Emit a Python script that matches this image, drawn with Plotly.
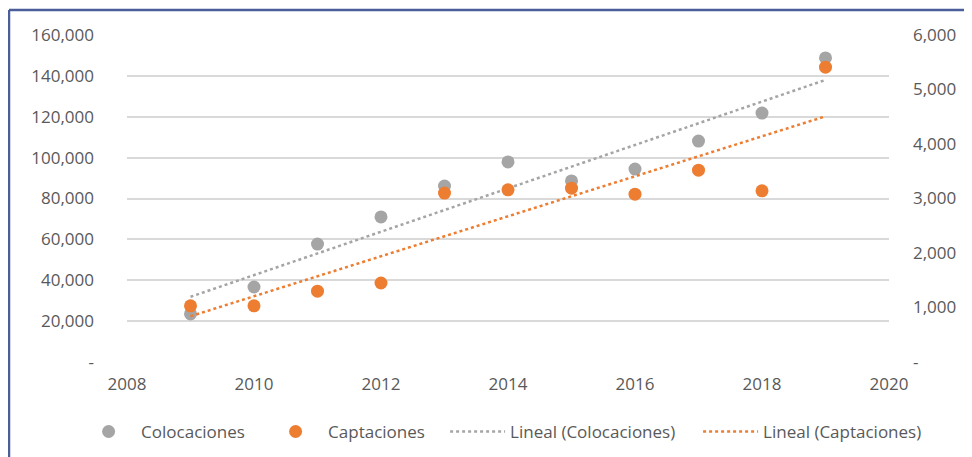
import numpy as np
import plotly.graph_objects as go

years = [2009, 2010, 2011, 2012, 2013, 2014, 2015, 2016, 2017, 2018, 2019]
colocaciones = [23500, 36700, 57700, 71000, 86100, 97900, 88600, 94400, 108100, 121800, 148800]
captaciones = [1030, 1030, 1300, 1450, 3100, 3160, 3190, 3080, 3520, 3140, 5410]

left_ticks = [0, 20000, 40000, 60000, 80000, 100000, 120000, 140000, 160000]
left_text = ["-", "20,000", "40,000", "60,000", "80,000", "100,000", "120,000", "140,000", "160,000"]
right_ticks = [0, 1000, 2000, 3000, 4000, 5000, 6000]
right_text = ["-", "1,000", "2,000", "3,000", "4,000", "5,000", "6,000"]
x_ticks = [2008, 2010, 2012, 2014, 2016, 2018, 2020]

GRAY = "#A5A5A5"
ORANGE = "#ED7D31"
TXT = "#595959"
FONT = "Open Sans"

x = np.array(years, dtype=float)
c_fit = np.polyfit(x, colocaciones, 1)
k_fit = np.polyfit(x, captaciones, 1)
trend_x = [years[0], years[-1]]

W, H = 964, 449
L, R, T, B = 119, 83, 27, 95
PW, PH = W - L - R, H - T - B

fig = go.Figure()
fig.add_trace(go.Scatter(x=years, y=colocaciones, mode="markers", name="Colocaciones",
                         marker=dict(color=GRAY, size=13), legendwidth=117))
fig.add_trace(go.Scatter(x=years, y=captaciones, mode="markers", name="Captaciones",
                         marker=dict(color=ORANGE, size=13), yaxis="y2", legendwidth=112))
fig.add_trace(go.Scatter(x=trend_x, y=list(np.polyval(c_fit, trend_x)), mode="lines",
                         name="Lineal (Colocaciones)",
                         line=dict(color=GRAY, width=2.5, dash="dot"), legendwidth=183))
fig.add_trace(go.Scatter(x=trend_x, y=list(np.polyval(k_fit, trend_x)), mode="lines",
                         name="Lineal (Captaciones)", yaxis="y2",
                         line=dict(color=ORANGE, width=2.5, dash="dot"), legendwidth=168))

fig.update_layout(
    width=W, height=H,
    margin=dict(l=L, r=R, t=T, b=B, autoexpand=False),
    paper_bgcolor="white", plot_bgcolor="white",
    font=dict(family=FONT, size=17, color=TXT),
    showlegend=True,
    legend=dict(orientation="h", x=-0.0668, xanchor="left",
                y=-0.214, yanchor="middle",
                font=dict(family=FONT, size=17, color=TXT), bgcolor="rgba(0,0,0,0)",
                itemwidth=55, traceorder="normal"),
    xaxis=dict(range=[2008, 2020], tickvals=x_ticks, showgrid=False, zeroline=False,
               showline=False, ticks="", ticklabelstandoff=10,
               tickfont=dict(family=FONT, size=17, color=TXT)),
    yaxis=dict(range=[0, 160000], tickvals=left_ticks, ticktext=left_text,
               showgrid=True, gridcolor="#D9D9D9", gridwidth=1.5, zeroline=False,
               showline=False, ticks="", ticklabelstandoff=32,
               tickfont=dict(family=FONT, size=17, color=TXT)),
    yaxis2=dict(range=[0, 6000], tickvals=right_ticks, ticktext=right_text,
                overlaying="y", side="right", showgrid=False, zeroline=False,
                showline=False, ticks="", ticklabelstandoff=23,
                tickfont=dict(family=FONT, size=17, color=TXT)),
    shapes=[
        dict(type="line", xref="paper", yref="paper",
             x0=(1 - L) / PW, x1=(1 - L) / PW,
             y0=(H - B - 2) / PH, y1=(H - B - H - 5) / PH,
             line=dict(color="#4A5F9A", width=2.5)),
        dict(type="line", xref="paper", yref="paper",
             x0=(1 - L) / PW, x1=(W + 10 - L) / PW,
             y0=(H - B - 2) / PH, y1=(H - B - 2) / PH,
             line=dict(color="#4A5F9A", width=2.5)),
    ],
)

fig.write_html("out.html")
